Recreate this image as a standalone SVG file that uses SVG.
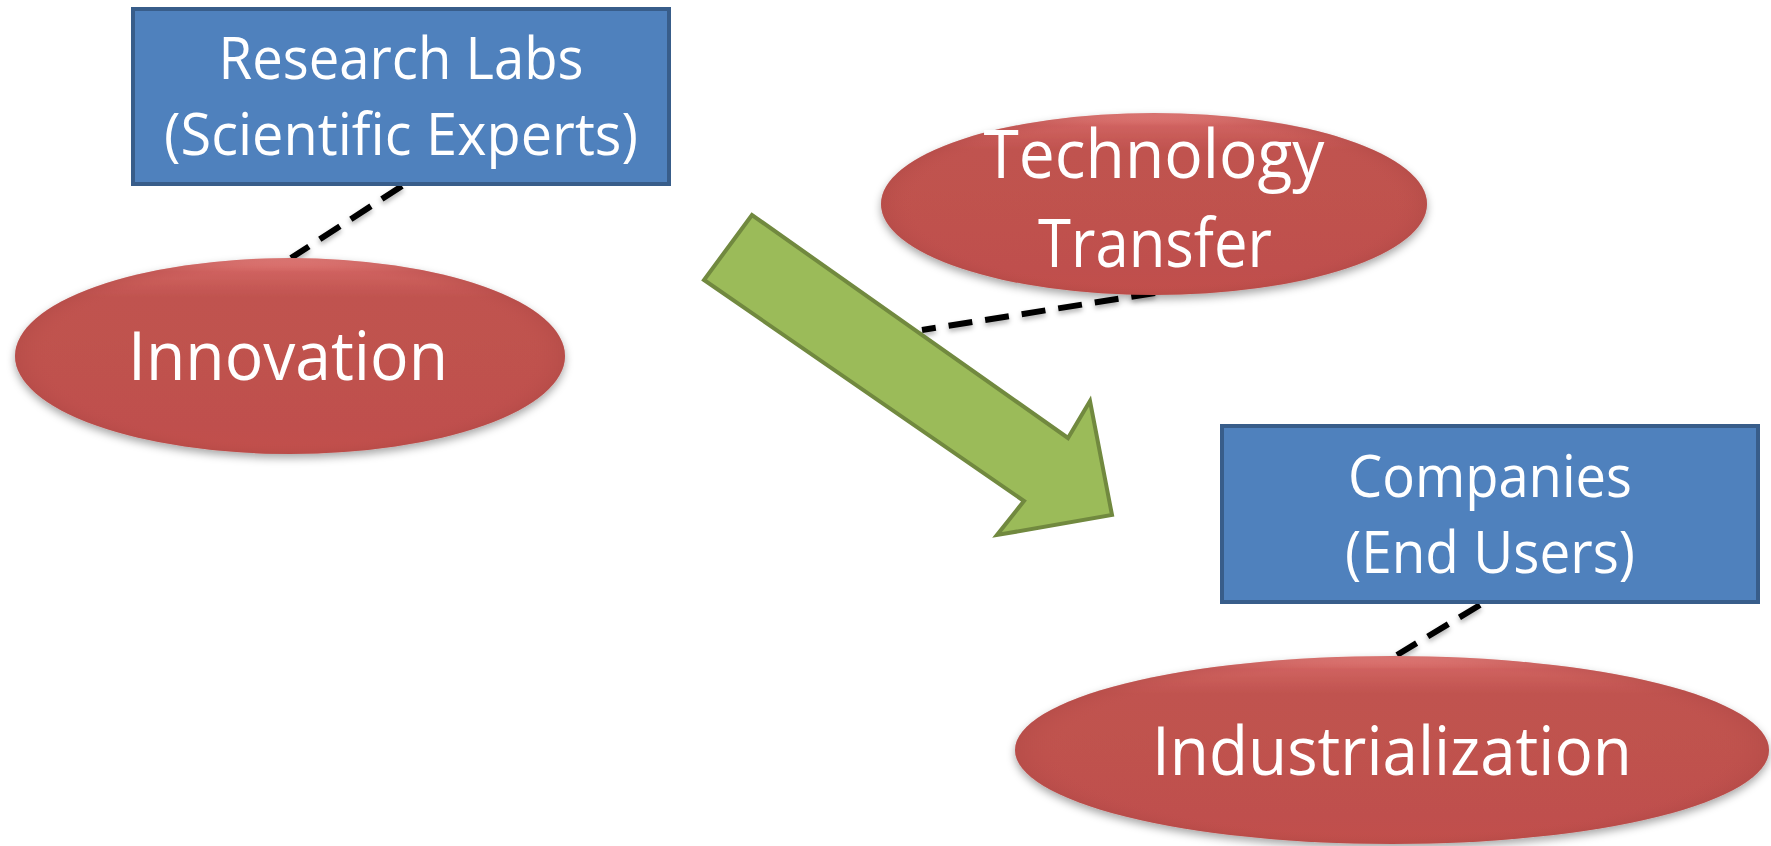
<svg xmlns="http://www.w3.org/2000/svg" width="1771" height="846" viewBox="0 0 1771 846">
  <style>
    .box { fill: #4F81BD; stroke: #385D8A; stroke-width: 4; }
    .oval { fill: url(#ovalFill); filter: url(#shadow); }
    .rim { fill: url(#rimFill); }
    .txt { font-family: "Open Sans", "Noto Sans", "DejaVu Sans", sans-serif; fill: #FFFFFF; text-anchor: middle; }
    .boxtxt { font-size: 58px; }
    .ovaltxt { font-size: 67px; }
    .dash { stroke: #000000; stroke-width: 6; stroke-dasharray: 24 13; fill: none; filter: url(#lineShadow); }
    .arrow { fill: #9BBB59; stroke: #71893F; stroke-width: 4; stroke-linejoin: miter; }
  </style>
  <defs>
    <linearGradient id="ovalFill" x1="0" y1="0" x2="0" y2="1">
      <stop offset="0" stop-color="#EE8A87"/>
      <stop offset="0.07" stop-color="#CF625F"/>
      <stop offset="0.2" stop-color="#C0534F"/>
      <stop offset="0.85" stop-color="#BF504D"/>
      <stop offset="1" stop-color="#C24F4C"/>
    </linearGradient>
    <radialGradient id="rimFill" cx="0.5" cy="0.5" r="0.5">
      <stop offset="0.88" stop-color="#C0504D" stop-opacity="0"/>
      <stop offset="1" stop-color="#A94542" stop-opacity="0.35"/>
    </radialGradient>
    <filter id="shadow" x="-10%" y="-10%" width="120%" height="130%">
      <feDropShadow dx="0" dy="4" stdDeviation="4" flood-color="#000000" flood-opacity="0.35"/>
    </filter>
    <filter id="lineShadow" x="-10%" y="-50%" width="120%" height="200%">
      <feDropShadow dx="0" dy="3" stdDeviation="2.5" flood-color="#000000" flood-opacity="0.3"/>
    </filter>
  </defs>

  <g id="connectors">
    <line class="dash" x1="402" y1="186" x2="291" y2="258"/>
    <line class="dash" x1="1155" y1="293" x2="922" y2="330"/>
    <line class="dash" x1="1480" y1="605" x2="1397" y2="655"/>
  </g>

  <g id="research-labs">
    <rect class="box" x="133" y="9" width="536" height="175"/>
    <text class="txt boxtxt" x="401" y="79" textLength="365" lengthAdjust="spacingAndGlyphs">Research Labs</text>
    <text class="txt boxtxt" x="401" y="155" textLength="474" lengthAdjust="spacingAndGlyphs">(Scientific Experts)</text>
  </g>

  <g id="innovation">
    <ellipse class="oval" cx="290" cy="356" rx="275" ry="98"/>
    <ellipse class="rim" cx="290" cy="356" rx="275" ry="98"/>
    <text class="txt ovaltxt" x="288" y="380" textLength="320" lengthAdjust="spacingAndGlyphs">Innovation</text>
  </g>

  <g id="transfer-arrow">
    <polygon class="arrow" points="752,215 704,280 1024,501 997,535 1112,515 1090,401 1068,438"/>
  </g>

  <g id="technology-transfer">
    <ellipse class="oval" cx="1154" cy="204" rx="273" ry="91"/>
    <ellipse class="rim" cx="1154" cy="204" rx="273" ry="91"/>
    <text class="txt ovaltxt" x="1154" y="178" textLength="341" lengthAdjust="spacingAndGlyphs">Technology</text>
    <text class="txt ovaltxt" x="1155" y="267" textLength="234" lengthAdjust="spacingAndGlyphs">Transfer</text>
  </g>

  <g id="companies">
    <rect class="box" x="1222" y="426" width="536" height="176"/>
    <text class="txt boxtxt" x="1490" y="497" textLength="284" lengthAdjust="spacingAndGlyphs">Companies</text>
    <text class="txt boxtxt" x="1490" y="573" textLength="290" lengthAdjust="spacingAndGlyphs">(End Users)</text>
  </g>

  <g id="industrialization">
    <ellipse class="oval" cx="1392" cy="750" rx="377" ry="94"/>
    <ellipse class="rim" cx="1392" cy="750" rx="377" ry="94"/>
    <text class="txt ovaltxt" x="1392" y="775" textLength="480" lengthAdjust="spacingAndGlyphs">Industrialization</text>
  </g>
</svg>
